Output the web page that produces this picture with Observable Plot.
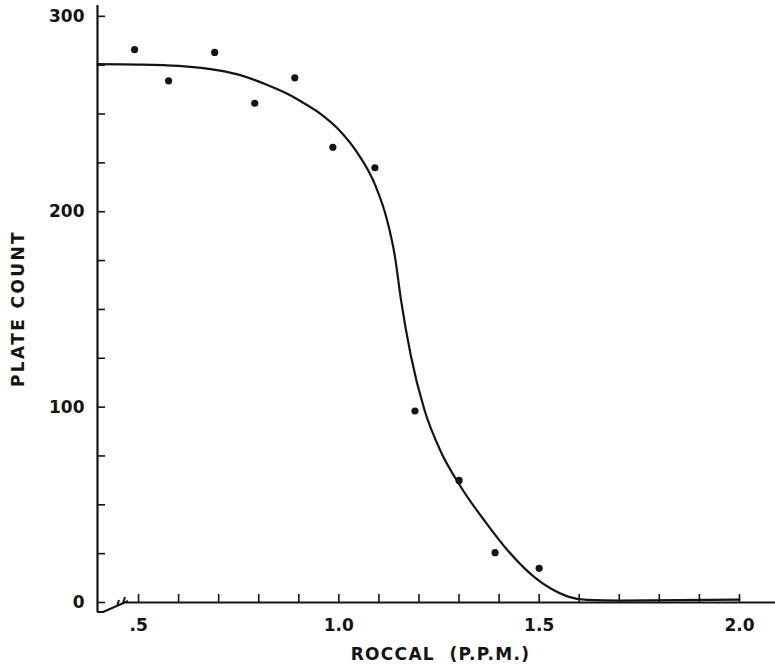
<!DOCTYPE html>
<html>
<head>
<meta charset="utf-8">
<script src="https://cdn.jsdelivr.net/npm/d3@7"></script>
<script src="https://cdn.jsdelivr.net/npm/@observablehq/plot@0.6"></script>
<style>
  html, body { margin: 0; padding: 0; background: #ffffff; }
  #chart svg { display: block; }
</style>
</head>
<body>
<div id="chart"></div>
<script>
// Observed points: concentration (ppm) and plate count
const pointX = [0.49, 0.575, 0.69, 0.79, 0.89, 0.985, 1.09, 1.19, 1.30, 1.39, 1.50];
const pointY = [283, 267, 281.5, 255.5, 268.5, 233, 222.5, 98, 62.5, 25.5, 17.5];

// Fitted (hand-drawn) curve
const curveX = [0.3975, 0.5, 0.6, 0.7, 0.76, 0.82, 0.87, 0.905, 0.955, 1.0, 1.05, 1.09, 1.12, 1.14, 1.155, 1.18, 1.213, 1.255, 1.305, 1.363, 1.42, 1.488, 1.53, 1.572, 1.62, 1.7, 2.0];
const curveY = [275.5, 275.3, 274.6, 272.3, 269.5, 265, 260.5, 256.5, 250, 242, 229, 214, 196, 177, 155, 126, 99, 77, 59, 42, 27, 13, 7, 3, 1.3, 1.0, 1.5];

// Axes
const xDomain = [0.3975, 2.09];
const yDomain = [0, 304];
const xTicks = [0.5, 0.6, 0.7, 0.8, 0.9, 1.0, 1.1, 1.2, 1.3, 1.4, 1.5, 1.6, 1.7, 1.8, 1.9, 2.0];
const xLabelTicks = [0.5, 1.0, 1.5, 2.0];
const xTickLabels = [".5", "1.0", "1.5", "2.0"];
const yTicks = [0, 25, 50, 75, 100, 125, 150, 175, 200, 225, 250, 275, 300];
const yLabelTicks = [0, 100, 200, 300];
const yTickLabels = ["0", "100", "200", "300"];
const xTitle = "ROCCAL  (P.P.M.)";
const yTitle = "PLATE COUNT";

const points = pointX.map((x, i) => ({x, y: pointY[i]}));
const curve = curveX.map((x, i) => ({x, y: curveY[i]}));

const ink = "#141414";
const font = "'DejaVu Sans', sans-serif";

function breakMark(index, scales) {
  const x0 = scales.x(xDomain[0]);
  const y0 = scales.y(0);
  const p = d3.create("svg:path")
    .attr("d", `M${x0},${y0 + 10}L${x0 + 6},${y0 + 10}L${x0 + 22},${y0 + 3}M${x0 + 20},${y0 + 4}L${x0 + 22},${y0 - 2}M${x0 + 22},${y0 + 3}L${x0 + 31},${y0 - 1}M${x0 + 26},${y0 + 1}L${x0 + 28},${y0 - 5}`)
    .attr("fill", "none")
    .attr("stroke", ink)
    .attr("stroke-width", 2)
    .attr("stroke-linejoin", "round");
  return p.node();
}

const chart = Plot.plot({
  width: 775,
  height: 667,
  marginLeft: 97,
  marginRight: 0,
  marginTop: 8,
  marginBottom: 65,
  style: {background: "#ffffff", color: ink, fontFamily: font},
  x: {domain: xDomain, axis: null},
  y: {domain: yDomain, axis: null},
  marks: [
    // axis lines
    Plot.ruleX([xDomain[0]], {stroke: ink, strokeWidth: 2.2, insetTop: -3, insetBottom: -10}),
    Plot.ruleY([0], {stroke: ink, strokeWidth: 2.2, insetLeft: 29}),
    breakMark,
    // inward ticks
    Plot.axisX({ticks: xTicks, tickSize: -8, tickFormat: () => "", stroke: ink, strokeWidth: 1.6, label: null}),
    Plot.axisY({ticks: yTicks, tickSize: -8, tickFormat: () => "", stroke: ink, strokeWidth: 1.6, label: null}),
    // tick labels
    Plot.axisX({
      ticks: xLabelTicks, tickSize: 0, tickPadding: 16,
      tickFormat: d => xTickLabels[xLabelTicks.indexOf(d)],
      fontSize: 17, fontWeight: "bold", fill: ink, label: null
    }),
    Plot.axisY({
      ticks: yLabelTicks, tickSize: 0, tickPadding: 13,
      tickFormat: d => yTickLabels[yLabelTicks.indexOf(d)],
      fontSize: 17, fontWeight: "bold", fill: ink, label: null
    }),
    // titles
    Plot.text([xTitle], {frameAnchor: "bottom", textAnchor: "middle", dy: 57, dx: 4, text: d => d, fontSize: 17, fontWeight: "bold", fill: ink}),
    Plot.text([yTitle], {frameAnchor: "left", textAnchor: "middle", dx: -79, dy: 3, rotate: -90, text: d => d, fontSize: 17, fontWeight: "bold", fill: ink}),
    // curve and points
    Plot.line(curve, {x: "x", y: "y", curve: "monotone-x", stroke: ink, strokeWidth: 2.2}),
    Plot.dot(points, {x: "x", y: "y", r: 3.6, fill: ink, stroke: "none"})
  ]
});

// widen the hand-lettered titles
d3.select(chart).selectAll("text")
  .filter(function () { return this.textContent === xTitle; })
  .style("letter-spacing", "1.3px");
d3.select(chart).selectAll("text")
  .filter(function () { return this.textContent === yTitle; })
  .style("letter-spacing", "2.4px");

document.getElementById("chart").appendChild(chart);
</script>
</body>
</html>
